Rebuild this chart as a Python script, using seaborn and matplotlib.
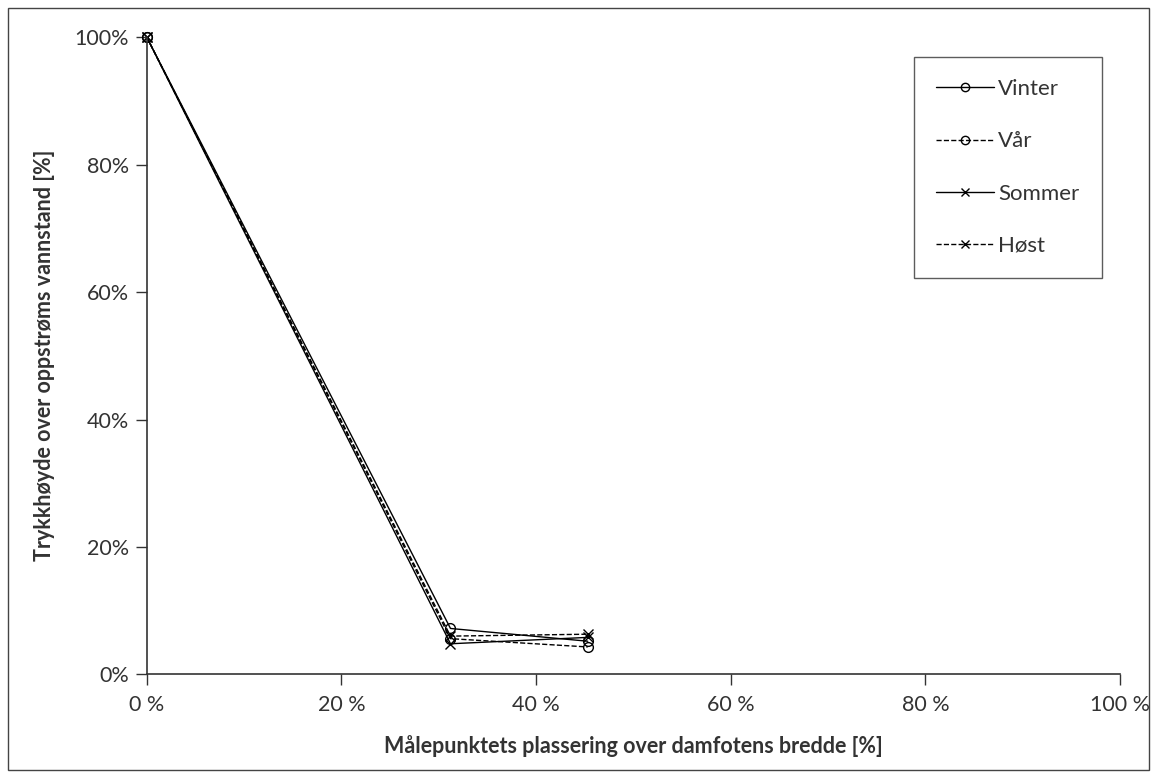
import matplotlib
matplotlib.use("Agg")
import matplotlib.pyplot as plt
import matplotlib.patches as mpatches
import seaborn as sns
import pandas as pd

# Measuring-point position across the dam toe width [%]
positions = [0.0, 31.2, 45.3]

# Pressure head relative to upstream water level [%]
vinter = [100.0, 7.2, 5.2]
vaar = [100.0, 5.6, 4.3]
sommer = [100.0, 4.8, 5.8]
hoest = [100.0, 6.0, 6.3]

series_names = ["Vinter", "Vår", "Sommer", "Høst"]
series_values = [vinter, vaar, sommer, hoest]
line_styles = ["-", "--", "-", "--"]
marker_styles = ["o", "o", "x", "x"]

x_ticks = [0, 20, 40, 60, 80, 100]
y_ticks = [0, 20, 40, 60, 80, 100]

sns.set_theme(style="white")
plt.rcParams["font.family"] = ["Lato", "DejaVu Sans"]

fig, ax = plt.subplots(figsize=(11.56, 7.76), dpi=100)
fig.subplots_adjust(left=0.127, right=0.969, top=0.952, bottom=0.131)

for name, vals, ls, mk in zip(series_names, series_values, line_styles, marker_styles):
    df = pd.DataFrame({"x": positions, "y": vals})
    sns.lineplot(data=df, x="x", y="y", ax=ax, color="black", linewidth=1.0,
                 linestyle=ls, marker=mk, markersize=7, markerfacecolor="none",
                 markeredgecolor="black", markeredgewidth=1.0, label=name,
                 clip_on=False)

ax.set_xlim(0, 100)
ax.set_ylim(0, 100)
ax.set_xticks(x_ticks)
ax.set_yticks(y_ticks)
ax.set_xticklabels([f"{t} %" for t in x_ticks])
ax.set_yticklabels([f"{t}%" for t in y_ticks])
ax.tick_params(axis="both", which="major", direction="out", length=8, width=1,
               color="#333333", labelsize=15.5, labelcolor="#333333", pad=5)
ax.tick_params(axis="x", bottom=True, pad=7)
ax.tick_params(axis="y", left=True)

for side in ["top", "right"]:
    ax.spines[side].set_visible(False)
for side in ["left", "bottom"]:
    ax.spines[side].set_color("#333333")
    ax.spines[side].set_linewidth(1.2)

ax.set_xlabel("Målepunktets plassering over damfotens bredde [%]", fontsize=15.5,
              fontweight="bold", color="#333333", labelpad=14)
ax.set_ylabel("Trykkhøyde over oppstrøms vannstand [%]", fontsize=15.5,
              fontweight="bold", color="#333333", labelpad=14)

leg = ax.legend(loc="upper right", bbox_to_anchor=(0.981, 0.969), frameon=True,
                fancybox=False, edgecolor="#333333", fontsize=16,
                labelspacing=1.45, handlelength=2.6, handletextpad=0.2,
                borderpad=1.0, borderaxespad=0)
leg.get_frame().set_linewidth(1.0)
for handle in leg.get_lines():
    handle.set_markersize(6)
for txt in leg.get_texts():
    txt.set_color("#333333")

# Outer chart border
fig.patches.append(mpatches.Rectangle((0.007, 0.008), 0.987, 0.982,
                                      transform=fig.transFigure, fill=False,
                                      edgecolor="#444444", linewidth=1.0))

fig.savefig("out.png", dpi=100)
